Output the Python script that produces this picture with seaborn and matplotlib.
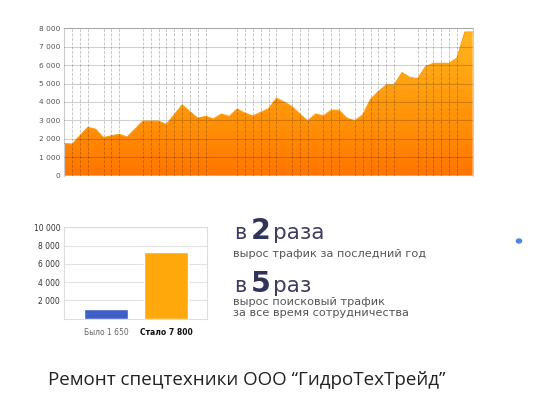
import numpy as np
import pandas as pd
import matplotlib
matplotlib.use("Agg")
import matplotlib.pyplot as plt
from matplotlib.colors import LinearSegmentedColormap
import seaborn as sns

# ---------------- data ----------------
traffic = [1750, 1720, 2180, 2630, 2520, 2070, 2170, 2250, 2100, 2530,
           2960, 2960, 2960, 2790, 3310, 3840, 3480, 3120, 3230, 3080,
           3350, 3220, 3620, 3400, 3240, 3440, 3630, 4210, 4000, 3750,
           3340, 2980, 3350, 3250, 3560, 3550, 3120, 2990, 3300, 4150,
           4570, 4930, 4930, 5600, 5330, 5270, 5920, 6100, 6100, 6100,
           6380, 7800, 7800]
grid_idx = [1, 2, 3, 5, 6, 7, 10, 11, 12, 13, 14, 15, 16, 17, 18, 22, 23, 24,
            25, 26, 27, 29, 30, 31, 33, 34, 35, 37, 38, 39, 40, 41, 42, 45, 46,
            47, 48, 49, 50]
yticks_top = [0, 1000, 2000, 3000, 4000, 5000, 6000, 7000, 8000]
ylabels_top = ["0", "1 000", "2 000", "3 000", "4 000", "5 000", "6 000", "7 000", "8 000"]

bar_cats = ["Было 1 650", "Стало 7 800"]
bar_vals = [1100, 7330]
yticks_bar = [2000, 4000, 6000, 8000, 10000]
ylabels_bar = ["2 000", "4 000", "6 000", "8 000", "10 000"]

caption = "Ремонт спецтехники ООО “ГидроТехТрейд”"

# ---------------- figure ----------------
sns.set_style("white")
plt.rcParams["font.family"] = ["DejaVu Sans"]
W, H = 539, 413
fig = plt.figure(figsize=(W / 100, H / 100), dpi=100)


def ax_px(x0, y0, x1, y1):
    return fig.add_axes([x0 / W, 1 - y1 / H, (x1 - x0) / W, (y1 - y0) / H])


def ftext(x, y, s, **kw):
    return fig.text(x / W, 1 - y / H, s, **kw)


# ---- top area chart ----
ax = ax_px(64.3, 28.3, 472.7, 175.7)
df = pd.DataFrame({"i": np.arange(len(traffic)), "v": traffic})
n = len(traffic) - 1
ax.set_xlim(0, n)
ax.set_ylim(0, 8000)
poly = ax.fill_between(df["i"], 0, df["v"], color="#FF9A10", lw=0, zorder=1)
cmap = LinearSegmentedColormap.from_list("og", ["#FF7400", "#FF8F06", "#FFA312", "#FFB820"])
grad = np.linspace(0, 1, 256).reshape(-1, 1)
img = ax.imshow(grad, extent=[0, n, 0, 8000], origin="lower", aspect="auto",
                cmap=cmap, zorder=2)
img.set_clip_path(poly.get_paths()[0], transform=ax.transData)
poly.set_visible(False)
sns.lineplot(data=df, x="i", y="v", ax=ax, color="#FFA010", lw=0.8, zorder=3)
for t in yticks_top[1:]:
    ax.axhline(t, color="black", alpha=0.18, lw=0.8, zorder=4)
for gi in grid_idx:
    ax.axvline(gi, color="black", alpha=0.22, lw=0.7, ls=(0, (3, 1.5)), zorder=4)
ax.set_yticks(yticks_top)
ax.set_yticklabels(ylabels_top)
ax.set_xticks([])
ax.set_xlabel("")
ax.set_ylabel("")
ax.tick_params(axis="y", labelsize=5.3, colors="#555555", length=0, pad=3)
for s in ["top", "right", "left"]:
    ax.spines[s].set_color("#cccccc")
    ax.spines[s].set_linewidth(0.8)
ax.spines["bottom"].set_visible(False)

# ---- bar chart ----
bx = ax_px(64.3, 227.3, 206.7, 318.7)
sns.barplot(x=bar_cats, y=bar_vals, hue=bar_cats, palette=["#3F5FC6", "#FFA80C"],
            saturation=1, legend=False, width=0.73, ax=bx, zorder=3)
bx.set_xlim(-0.695, 1.678)
bx.set_ylim(0, 10000)
bx.set_yticks(yticks_bar)
bx.set_yticklabels(ylabels_bar)
bx.grid(axis="y", color="#e2e2e2", lw=0.8, zorder=0)
bx.set_axisbelow(True)
bx.tick_params(axis="y", labelsize=5.5, colors="#333333", length=0, pad=3)
bx.tick_params(axis="x", labelsize=5.5, colors="#666666", length=0, pad=7)
labs = bx.get_xticklabels()
labs[1].set_fontweight("bold")
labs[1].set_color("#111111")
for s in bx.spines.values():
    s.set_color("#dddddd")
    s.set_linewidth(0.8)

# ---- right-hand text ----
dark = "#3b3e5f"
ftext(234, 239.3, "в", fontsize=15, color=dark, va="baseline")
ftext(250.5, 239.3, "2", fontsize=20.5, fontweight="bold", color="#30345a", va="baseline")
ftext(273, 239.3, "раза", fontsize=15.5, color=dark, va="baseline")
ftext(233, 257, "вырос трафик за последний год", fontsize=8.1, color="#555555", va="baseline")
ftext(234, 292, "в", fontsize=15, color=dark, va="baseline")
ftext(250.5, 292, "5", fontsize=20.5, fontweight="bold", color="#30345a", va="baseline")
ftext(273, 292, "раз", fontsize=15.5, color=dark, va="baseline")
ftext(233, 304.7, "вырос поисковый трафик", fontsize=8.1, color="#555555", va="baseline")
ftext(233, 315.7, "за все время сотрудничества", fontsize=8.1, color="#555555", va="baseline")

fig.patches.append(plt.Circle((519 / W, 1 - 241 / H), 2.6 / W, transform=fig.transFigure,
                              color="#4a86e0", figure=fig))

ftext(247, 385, caption, fontsize=13.5, color="#222222", ha="center", va="baseline",
      family=["Open Sans", "DejaVu Sans"])

fig.savefig("out.png", dpi=100)
